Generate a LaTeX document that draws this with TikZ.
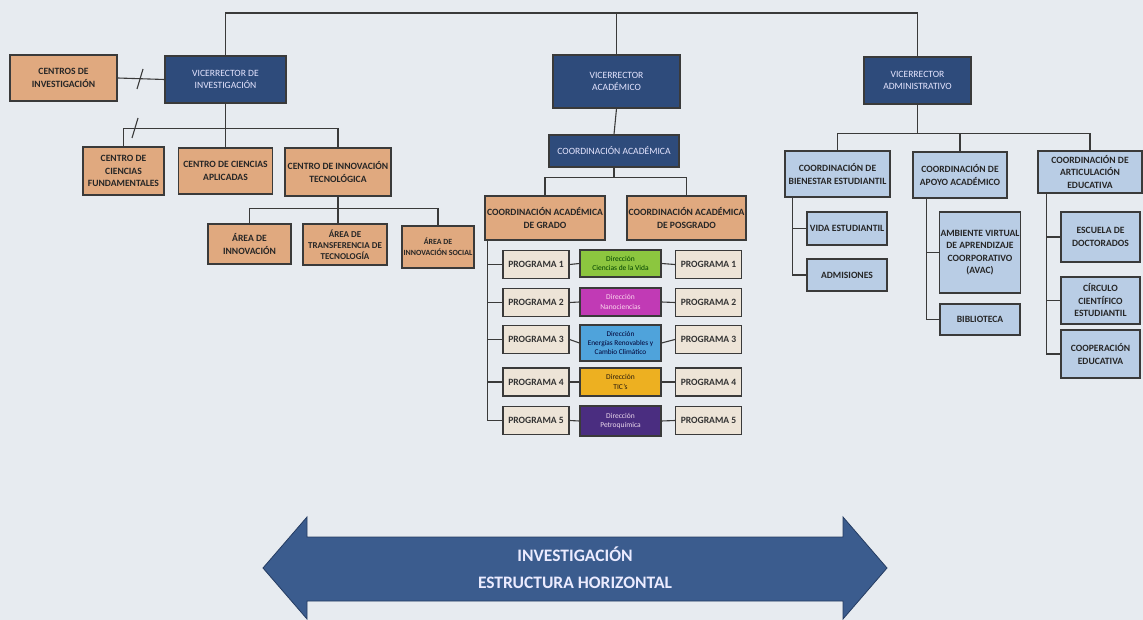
\documentclass[tikz,border=0pt]{standalone}
\usepackage{fontspec}
\setmainfont{Carlito}
\usepackage{tikz}
\usepackage{color}

\definecolor{bgc}{HTML}{E7EBF0}
\definecolor{navy}{HTML}{2E4B7B}
\definecolor{tanc}{HTML}{E0A97F}
\definecolor{lblue}{HTML}{B9CDE5}
\definecolor{progc}{HTML}{EDE4D7}
\definecolor{dgreen}{HTML}{8CC63F}
\definecolor{dmag}{HTML}{C13AB5}
\definecolor{dsky}{HTML}{4FA3DB}
\definecolor{dgold}{HTML}{EDB021}
\definecolor{dpurp}{HTML}{4A2D80}
\definecolor{arrowc}{HTML}{3B5C8E}
\definecolor{linec}{HTML}{3A3A3A}

\begin{document}
\begin{tikzpicture} [x=1pt,y=-1pt,
  box/.style={draw=linec,line width=1.2pt,align=center,inner sep=1pt,
    font=\bfseries\fontsize{9.6}{12.5}\selectfont},
  tanbox/.style={box,fill=tanc,text=black!85},
  navybox/.style={box,fill=navy,text=white!90!blue,font=\fontsize{9.6}{12.5}\selectfont},
  bluebox/.style={box,fill=lblue,text=black!85},
  progbox/.style={box,fill=progc,text=black!80,minimum width=66,minimum height=28},
  dirbox/.style={box,minimum width=81,font=\fontsize{7.5}{9.5}\selectfont},
  link/.style={draw=linec,line width=1.1pt}]
\fill [bgc] (0,0) rectangle (1143,620);
\useasboundingbox (0,0) rectangle (1143,620);

% vicerrectores
\node [navybox,minimum width=121,minimum height=47] (vinv) at (225.5,79.5) {VICERRECTOR DE\\INVESTIGACIÓN};
\node [navybox,minimum width=127,minimum height=53] (vaca) at (616.5,81.5) {VICERRECTOR\\ACADÉMICO};
\node [navybox,minimum width=107,minimum height=47] (vadm) at (917.5,80.5) {VICERRECTOR\\ADMINISTRATIVO};
\coordinate (top) at (616.5,13);
\draw [link] (vinv.north) |- (top) -| (vadm.north);
\draw [link] (vaca.north) -- (top);

% investigacion
\node [tanbox,minimum width=107,minimum height=46] (cinv) at (63.5,78) {CENTROS DE\\INVESTIGACIÓN};
\node [tanbox,minimum width=81,minimum height=48] (ccf) at (123.5,171) {CENTRO DE\\CIENCIAS\\FUNDAMENTALES};
\node [tanbox,minimum width=94,minimum height=46] (cca) at (225.5,171) {CENTRO DE CIENCIAS\\APLICADAS};
\node [tanbox,minimum width=106,minimum height=48] (cit) at (338,172) {CENTRO DE INNOVACIÓN\\TECNOLÓGICA};
\node [tanbox,minimum width=83,minimum height=40] (ainn) at (249.5,244) {ÁREA DE\\INNOVACIÓN};
\node [tanbox,minimum width=84,minimum height=41,font=\bfseries\fontsize{9}{11}\selectfont] (atra) at (345,244.5) {ÁREA DE\\TRANSFERENCIA DE\\TECNOLOGÍA};
\node [tanbox,minimum width=72,minimum height=42,font=\bfseries\fontsize{7.9}{11}\selectfont] (asoc) at (438,247) {ÁREA DE\\INNOVACIÓN SOCIAL};
\draw [link] (cinv.east) -- (vinv.west);
\draw [link] (140,79) +(-3,10) -- +(3,-10);
\draw [link] (vinv.south) -- +(0,25) -| (ccf.north);
\draw [link] (vinv.south) -- +(0,25) -| (cit.north);
\draw [link] (vinv.south) -- (cca.north);
\draw [link] (135,128) +(-3,10) -- +(3,-10);
\draw [link] (cit.south) -- +(0,12) -| (ainn.north);
\draw [link] (cit.south) -- +(0,12) -| (asoc.north);
\draw [link] (cit.south) -- (cit.south |- atra.north);

% academico
\node [navybox,minimum width=130,minimum height=32] (cacad) at (614,151) {COORDINACIÓN ACADÉMICA};
\node [tanbox,minimum width=120,minimum height=44] (grado) at (545,218) {COORDINACIÓN ACADÉMICA\\DE GRADO};
\node [tanbox,minimum width=119,minimum height=44] (posg) at (686.5,218) {COORDINACIÓN ACADÉMICA\\DE POSGRADO};
\draw [link] (vaca.south) -- (cacad.north);
\draw [link] (cacad.south) -- +(0,10) -| (grado.north);
\draw [link] (cacad.south) -- +(0,10) -| (posg.north);

\node [progbox] (pl1) at (536,264.5) {PROGRAMA 1};
\node [progbox] (pl2) at (536,302.5) {PROGRAMA 2};
\node [progbox] (pl3) at (536,339.5) {PROGRAMA 3};
\node [progbox] (pl4) at (536,382) {PROGRAMA 4};
\node [progbox] (pl5) at (536,420.5) {PROGRAMA 5};
\node [dirbox,fill=dgreen,text=green!25!black,minimum height=27] (d1) at (620.5,263.5) {Dirección\\Ciencias de la Vida};
\node [dirbox,fill=dmag,text=white!85!magenta,minimum height=28] (d2) at (620.5,302) {Dirección\\Nanociencias};
\node [dirbox,fill=dsky,text=black!80!blue,minimum height=36,font=\fontsize{7.3}{9}\selectfont] (d3) at (620.5,343) {Dirección\\Energías Renovables y\\Cambio Climático};
\node [dirbox,fill=dgold,text=black!80!brown,minimum height=28] (d4) at (620.5,382) {Dirección\\TIC's};
\node [dirbox,fill=dpurp,text=white!85!violet,minimum height=30] (d5) at (620.5,421) {Dirección\\Petroquímica};
\node [progbox] (pr1) at (708.5,264.5) {PROGRAMA 1};
\node [progbox] (pr2) at (708.5,302.5) {PROGRAMA 2};
\node [progbox] (pr3) at (708.5,339.5) {PROGRAMA 3};
\node [progbox] (pr4) at (708.5,382) {PROGRAMA 4};
\node [progbox] (pr5) at (708.5,420.5) {PROGRAMA 5};
\draw [link] ([xshift=3]grado.south west) |- (pl1.west);
\draw [link] ([xshift=3]grado.south west) |- (pl2.west);
\draw [link] ([xshift=3]grado.south west) |- (pl3.west);
\draw [link] ([xshift=3]grado.south west) |- (pl4.west);
\draw [link] ([xshift=3]grado.south west) |- (pl5.west);
\draw [link] (pl1.east) -- (d1.west) (d1.east) -- (pr1.west);
\draw [link] (pl2.east) -- (d2.west) (d2.east) -- (pr2.west);
\draw [link] (pl3.east) -- (d3.west) (d3.east) -- (pr3.west);
\draw [link] (pl4.east) -- (d4.west) (d4.east) -- (pr4.west);
\draw [link] (pl5.east) -- (d5.west) (d5.east) -- (pr5.west);

% administrativo
\node [bluebox,minimum width=105,minimum height=46] (cbe) at (837.5,174) {COORDINACIÓN DE\\BIENESTAR ESTUDIANTIL};
\node [bluebox,minimum width=94,minimum height=46] (caa) at (960,175) {COORDINACIÓN DE\\APOYO ACADÉMICO};
\node [bluebox,minimum width=104,minimum height=42] (cae) at (1090,172) {COORDINACIÓN DE\\ARTICULACIÓN\\EDUCATIVA};
\draw [link] (vadm.south) -- +(0,29) -| (cbe.north);
\draw [link] (vadm.south) -- +(0,29) -| (caa.north);
\draw [link] (vadm.south) -- +(0,29) -| (cae.north);

\node [bluebox,minimum width=80,minimum height=33] (vida) at (847,228.5) {VIDA ESTUDIANTIL};
\node [bluebox,minimum width=80,minimum height=32] (adm) at (847,275) {ADMISIONES};
\node [bluebox,minimum width=80,minimum height=81] (avac) at (980,252.5) {AMBIENTE VIRTUAL\\DE APRENDIZAJE\\COORPORATIVO\\(AVAC)};
\node [bluebox,minimum width=80,minimum height=31] (bib) at (980,319.5) {BIBLIOTECA};
\node [bluebox,minimum width=79,minimum height=50] (esc) at (1100.5,237) {ESCUELA DE\\DOCTORADOS};
\node [bluebox,minimum width=79,minimum height=47] (circ) at (1100.5,300.5) {CÍRCULO\\CIENTÍFICO\\ESTUDIANTIL};
\node [bluebox,minimum width=79,minimum height=48] (coop) at (1100.5,354) {COOPERACIÓN\\EDUCATIVA};
\draw [link] ([xshift=8]cbe.south west) |- (vida.west);
\draw [link] ([xshift=8]cbe.south west) |- (adm.west);
\draw [link] ([xshift=14]caa.south west) |- (avac.west);
\draw [link] ([xshift=14]caa.south west) |- (bib.west);
\draw [link] ([xshift=9]cae.south west) |- (esc.west);
\draw [link] ([xshift=9]cae.south west) |- (circ.west);
\draw [link] ([xshift=9]cae.south west) |- (coop.west);

% flecha horizontal
\fill [arrowc,draw=navy!80!black,line width=0.8pt] (263,568) -- (307,517) -- (307,537) -- (843,537) -- (843,517)
  -- (887,568) -- (843,619) -- (843,601) -- (307,601) -- (307,619) -- cycle;
\node [text=white!92!blue,align=center,font=\bfseries\fontsize{17.5}{27}\selectfont] (inv) at (575,568) {INVESTIGACIÓN\\ESTRUCTURA HORIZONTAL};
\end{tikzpicture}
\end{document}
